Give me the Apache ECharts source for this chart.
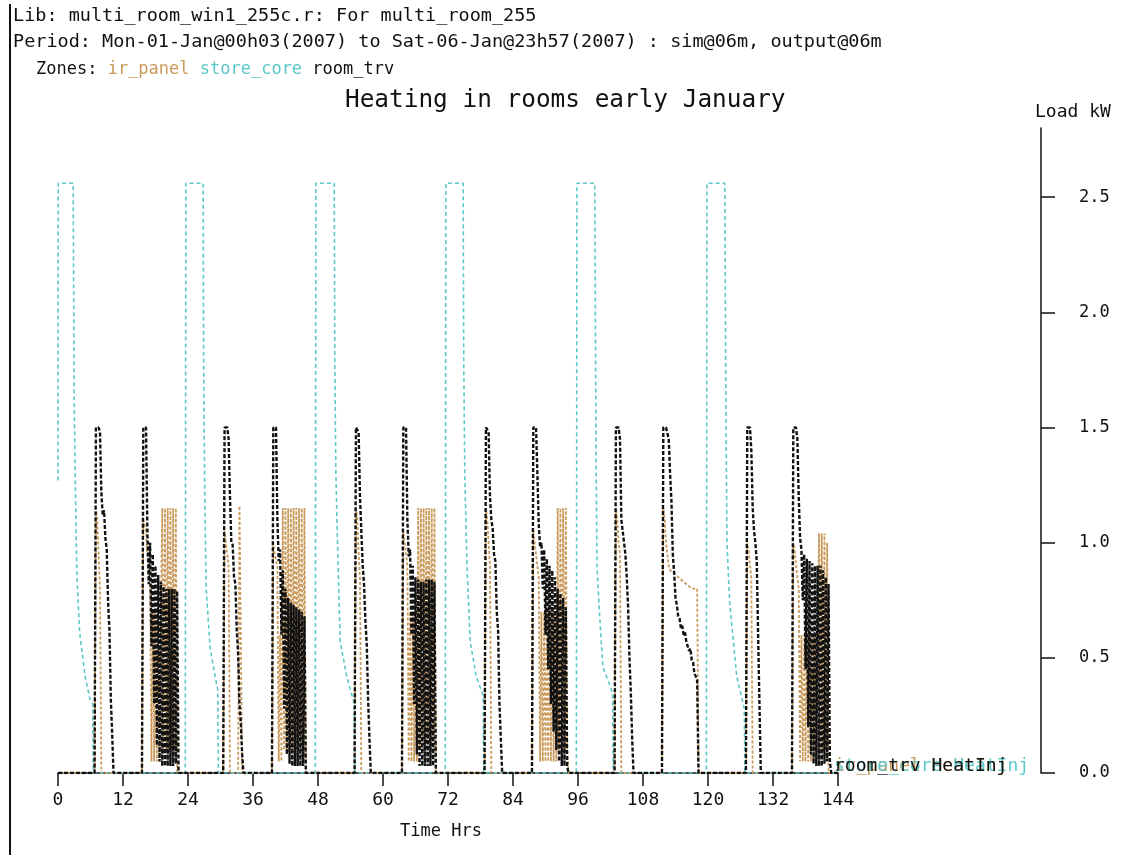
<!DOCTYPE html>
<html>
<head>
<meta charset="utf-8">
<script src="https://cdn.jsdelivr.net/npm/echarts@6/dist/echarts.min.js"></script>
<style>
  html, body { margin: 0; padding: 0; background: #fff; }
  #chart { width: 1123px; height: 855px; }
</style>
</head>
<body>
<div id="chart"></div>
<script>
// sample spacing of the runs below (hours)
const STEP = 0.25;

const hourTicks = [0, 12, 24, 36, 48, 60, 72, 84, 96, 108, 120, 132, 144];
const loadTicks = [0, 0.5, 1.0, 1.5, 2.0, 2.5];

// room_trv: [start hour, values every STEP]
const trvRuns = [
    [6.75, [0, 1.5, 1.5, 1.5, 1.48, 1.22, 1.12, 1.14, 1.02, 0.97, 0.74, 0.62, 0.32, 0.17, 0]],
    [15.5, [0, 1.5, 1.5, 1.5, 1.05, 0.82, 1.0, 0.55, 0.95, 0.3, 0.9, 0.12, 0.86, 0.05, 0.83, 0.03, 0.81, 0.03, 0.8, 0.03, 0.8, 0.03, 0.8, 0.03, 0.8, 0.04, 0.79, 0]],
    [30.5, [0, 1.5, 1.5, 1.5, 1.45, 1.2, 1.0, 0.99, 0.85, 0.82, 0.62, 0.52, 0.3, 0.22, 0.08, 0]],
    [39.5, [0, 1.5, 1.5, 1.5, 1.1, 0.92, 0.97, 0.6, 0.88, 0.28, 0.8, 0.08, 0.76, 0.04, 0.74, 0.03, 0.73, 0.03, 0.72, 0.03, 0.71, 0.03, 0.7, 0.03, 0.68, 0]],
    [54.75, [0, 1.5, 1.5, 1.48, 1.2, 1.05, 0.9, 0.82, 0.66, 0.56, 0.32, 0.15, 0]],
    [63.5, [0, 1.5, 1.5, 1.5, 1.1, 0.94, 0.97, 0.6, 0.9, 0.3, 0.85, 0.08, 0.84, 0.03, 0.83, 0.03, 0.83, 0.03, 0.84, 0.03, 0.84, 0.03, 0.84, 0.03, 0.83, 0]],
    [78.75, [0, 1.5, 1.5, 1.48, 1.2, 1.1, 1.06, 0.95, 0.92, 0.7, 0.62, 0.3, 0.15, 0]],
    [87.5, [0, 1.5, 1.5, 1.5, 1.3, 1.08, 0.98, 1.0, 0.8, 0.97, 0.6, 0.93, 0.45, 0.9, 0.3, 0.88, 0.18, 0.85, 0.1, 0.8, 0.05, 0.78, 0.03, 0.76, 0.03, 0.72, 0.03, 0]],
    [102.75, [0, 1.5, 1.5, 1.5, 1.45, 1.1, 1.05, 1.0, 0.95, 0.85, 0.72, 0.5, 0.35, 0.15, 0]],
    [111.5, [0, 1.5, 1.5, 1.5, 1.5, 1.45, 1.3, 1.18, 0.95, 0.87, 0.76, 0.73, 0.68, 0.67, 0.63, 0.64, 0.6, 0.61, 0.57, 0.57, 0.53, 0.54, 0.49, 0.48, 0.43, 0.42, 0.4, 0]],
    [127.0, [0, 1.5, 1.5, 1.5, 1.4, 1.15, 1.05, 1.0, 0.92, 0.6, 0.3, 0]],
    [135.5, [0, 1.5, 1.5, 1.5, 1.45, 1.2, 1.02, 0.97, 0.75, 0.95, 0.45, 0.93, 0.2, 0.92, 0.08, 0.91, 0.04, 0.9, 0.03, 0.9, 0.03, 0.9, 0.03, 0.88, 0.04, 0.85, 0.05, 0.82, 0.05, 0]]
];

// ir_panel: [start hour, values every STEP]
const panelRuns = [
    [6.75, [0, 1.15, 1.1, 0.95, 0.8, 0]],
    [15.5, [0, 1.1, 1.08, 1.05, 0.95, 0.9, 0.85, 0.05, 0.7, 0.05, 0.7, 0.05, 0.7, 0.05, 0.7, 1.15, 0.1, 1.15, 0.1, 1.15, 0.1, 1.15, 0.1, 1.15, 0.1, 1.15, 0]],
    [30.5, [0, 1.05, 1.0, 0.95, 0.9, 0, 0, 0, 0, 0, 0, 0, 1.16, 1.16, 0]],
    [39.5, [0, 1.0, 0.95, 0.95, 0.9, 0.05, 0.6, 0.05, 1.15, 0.1, 1.15, 0.1, 1.15, 0.1, 1.15, 0.1, 1.15, 0.1, 1.15, 0.1, 1.15, 0.1, 1.15, 0.1, 1.15, 0]],
    [54.75, [0, 1.15, 1.1, 0.95, 0.85, 0]],
    [63.5, [0, 1.05, 1.0, 0.95, 0.9, 0.05, 0.7, 0.05, 0.7, 0.05, 0.7, 0.05, 1.15, 0.1, 1.15, 0.1, 1.15, 0.1, 1.15, 0.1, 1.15, 0.1, 1.15, 0.1, 1.15, 0]],
    [78.75, [0, 1.15, 1.1, 1.0, 0.9, 0]],
    [87.5, [0, 1.05, 1.0, 0.95, 0.9, 0.85, 0.05, 0.7, 0.05, 0.7, 0.05, 0.7, 0.05, 0.7, 0.05, 0.7, 0.05, 0.7, 0.05, 1.15, 0.1, 1.15, 0.1, 1.15, 0.1, 1.15, 0.1, 0]],
    [102.75, [0, 1.15, 1.1, 1.0, 0.95, 0]],
    [111.5, [0, 1.15, 1.1, 1.0, 0.95, 0.9, 0.88, 0.88, 0.87, 0.87, 0.86, 0.86, 0.85, 0.85, 0.84, 0.84, 0.83, 0.83, 0.82, 0.82, 0.81, 0.81, 0.8, 0.8, 0.8, 0.8, 0.8, 0]],
    [127.0, [0, 1.0, 0.97, 0.9, 0.85, 0]],
    [135.5, [0, 1.0, 0.97, 0.9, 0.85, 0.8, 0.05, 0.6, 0.05, 0.6, 0.05, 0.6, 0.05, 0.6, 0.05, 0.6, 0.05, 0.6, 0.05, 0.6, 1.04, 0.1, 1.04, 0.1, 1.04, 0.1, 1.0, 0]]
];

// store_core: [hour, kW]
const corePoints = [
    [0, 1.27], [0.05, 2.56], [2.8, 2.56], [3.0, 1.6], [3.3, 1.1], [3.5, 0.85], [4.0, 0.61], [5.0, 0.42], [5.9, 0.32], [6.4, 0.3], [6.5, 0],
    [23.5, 0], [23.6, 2.56], [26.8, 2.56], [26.9, 1.7], [27.1, 1.2], [27.35, 0.8], [28.1, 0.54], [29.0, 0.42], [29.5, 0.36], [29.6, 0],
    [47.5, 0], [47.6, 2.56], [51.0, 2.56], [51.1, 1.8], [51.3, 1.3], [51.6, 1.0], [52.1, 0.57], [53.3, 0.42], [54.7, 0.3], [54.8, 0],
    [71.5, 0], [71.6, 2.56], [74.8, 2.56], [74.9, 1.8], [75.1, 1.3], [75.5, 0.9], [76.1, 0.57], [77.2, 0.42], [78.3, 0.35], [78.5, 0.33], [78.6, 0],
    [95.7, 0], [95.8, 2.56], [99.1, 2.56], [99.3, 1.5], [99.5, 0.9], [100.0, 0.68], [100.6, 0.46], [102.2, 0.36], [102.4, 0.33], [102.5, 0],
    [119.7, 0], [119.8, 2.56], [123.1, 2.56], [123.3, 1.6], [123.5, 1.0], [124.0, 0.74], [125.3, 0.42], [126.7, 0.28], [126.8, 0],
    [144, 0]
];

const MONO = '"DejaVu Sans Mono", "Liberation Mono", monospace';
const ORANGE = '#c99a5b';
const CYAN = '#5cc8c8';
const BLACK = '#111111';

function buildRuns(runs) {
    const pts = [[0, 0]];
    runs.forEach(([start, vals]) => {
        vals.forEach((v, i) => pts.push([start + i * STEP, v]));
    });
    pts.push([144, 0]);
    return pts;
}

function lineSeries(name, data, color, width, dash, label) {
    return {
        name: name,
        type: 'line',
        data: data,
        showSymbol: false,
        symbol: 'none',
        animation: false,
        silent: true,
        lineStyle: { color: color, width: width, type: dash },
        endLabel: {
            show: true,
            formatter: label,
            color: color,
            fontFamily: MONO,
            fontSize: 18,
            distance: 0,
            offset: [-4, -7]
        }
    };
}

function headerText(text, left, top, size, color) {
    return { type: 'text', left: left, top: top, style: { text: text, font: size + 'px ' + MONO, fill: color } };
}

const chart = echarts.init(document.getElementById('chart'));

const option = {
    animation: false,
    grid: { left: 58, right: 285, top: 128, bottom: 82 },
    xAxis: {
        type: 'value',
        min: 0,
        max: 144,
        interval: 12,
        axisLine: { show: true, onZero: false, lineStyle: { color: BLACK, width: 1.5 } },
        axisTick: { show: true, length: 13, lineStyle: { color: BLACK, width: 1.5 } },
        axisLabel: { color: BLACK, fontFamily: MONO, fontSize: 18, margin: 18 },
        splitLine: { show: false }
    },
    yAxis: {
        type: 'value',
        position: 'right',
        offset: 203,
        min: 0,
        max: 2.8,
        axisLine: { show: true, onZero: false, lineStyle: { color: BLACK, width: 1.5 } },
        axisTick: { show: true, length: 14, customValues: loadTicks, lineStyle: { color: BLACK, width: 1.5 } },
        axisLabel: {
            color: BLACK, fontFamily: MONO, fontSize: 17, margin: 38,
            customValues: loadTicks,
            formatter: v => v.toFixed(1)
        },
        splitLine: { show: false }
    },
    graphic: [
        { type: 'line', shape: { x1: 10, y1: 4, x2: 10, y2: 855 }, style: { stroke: BLACK, lineWidth: 2 } },
        headerText('Lib: multi_room_win1_255c.r: For multi_room_255', 13, 7, 18.5, BLACK),
        headerText('Period: Mon-01-Jan@00h03(2007) to Sat-06-Jan@23h57(2007) : sim@06m, output@06m', 13, 33, 18.5, BLACK),
        {
            type: 'text', left: 36, top: 61,
            style: {
                text: '{k|Zones:} {o|ir_panel} {c|store_core} {k|room_trv}',
                font: '17px ' + MONO,
                rich: {
                    k: { fill: BLACK, font: '17px ' + MONO },
                    o: { fill: ORANGE, font: '17px ' + MONO },
                    c: { fill: CYAN, font: '17px ' + MONO }
                }
            }
        },
        headerText('Heating in rooms early January', 345, 89, 24.4, BLACK),
        headerText('Load kW', 1035, 103, 18, BLACK),
        headerText('Time Hrs', 400, 823, 17, BLACK)
    ],
    series: [
        lineSeries('ir_panel', buildRuns(panelRuns), ORANGE, 1.8, [3, 2], 'ir_panel HeatInj'),
        lineSeries('store_core', corePoints, CYAN, 1.6, [4, 3], 'store_core HeatInj'),
        lineSeries('room_trv', buildRuns(trvRuns), BLACK, 2.4, [4, 2], 'room_trv HeatInj')
    ]
};

chart.setOption(option);
</script>
</body>
</html>
